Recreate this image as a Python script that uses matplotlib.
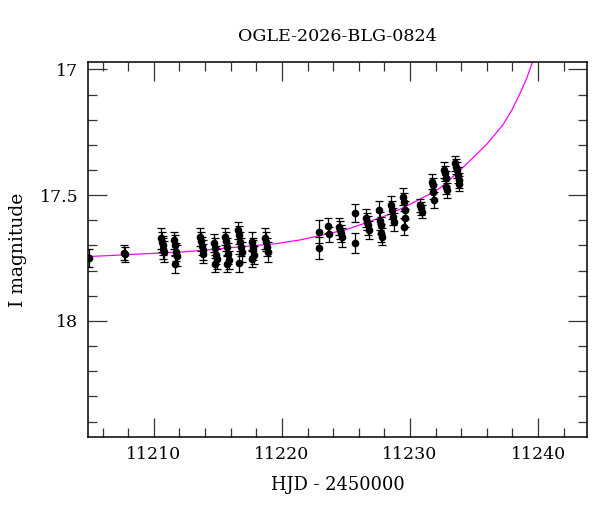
import matplotlib
matplotlib.use("Agg")
import matplotlib.pyplot as plt
from matplotlib.ticker import MultipleLocator

# photometry: HJD-2450000, I mag, error
hjd = [11204.90,
       11207.70, 11207.76,
       11210.55, 11210.62, 11210.68, 11210.72, 11210.78,
       11211.55, 11211.62, 11211.70, 11211.78, 11211.62,
       11213.60, 11213.68, 11213.75, 11213.80, 11213.86,
       11214.70, 11214.78, 11214.85, 11214.92, 11214.80,
       11215.55, 11215.62, 11215.70, 11215.78, 11215.85, 11215.68,
       11216.55, 11216.62, 11216.70, 11216.78, 11216.85, 11216.65,
       11217.65, 11217.72, 11217.78, 11217.85, 11217.70,
       11218.70, 11218.78, 11218.85, 11218.90,
       11222.86, 11222.86,
       11223.60, 11223.65,
       11224.45, 11224.52, 11224.60, 11224.68,
       11225.70, 11225.70,
       11226.60, 11226.67, 11226.73, 11226.80,
       11227.55, 11227.62, 11227.70, 11227.75, 11227.82,
       11228.55, 11228.62, 11228.70, 11228.78,
       11229.45, 11229.52, 11229.58, 11229.62, 11229.55,
       11230.80, 11230.85, 11230.90,
       11231.70, 11231.77, 11231.83, 11231.88,
       11232.65, 11232.72, 11232.78, 11232.85, 11232.90,
       11233.55, 11233.62, 11233.68, 11233.75, 11233.82, 11233.85]
mag = [17.750,
       17.728, 17.735,
       17.672, 17.685, 17.700, 17.712, 17.724,
       17.680, 17.698, 17.725, 17.740, 17.775,
       17.665, 17.684, 17.703, 17.718, 17.732,
       17.690, 17.710, 17.738, 17.752, 17.772,
       17.665, 17.684, 17.705, 17.732, 17.758, 17.772,
       17.640, 17.660, 17.685, 17.705, 17.726, 17.770,
       17.685, 17.705, 17.718, 17.738, 17.752,
       17.672, 17.685, 17.705, 17.725,
       17.645, 17.710,
       17.622, 17.655,
       17.625, 17.640, 17.652, 17.668,
       17.570, 17.690,
       17.592, 17.605, 17.620, 17.638,
       17.560, 17.603, 17.620, 17.652, 17.665,
       17.540, 17.558, 17.585, 17.605,
       17.506, 17.526, 17.560, 17.592, 17.625,
       17.540, 17.552, 17.566,
       17.447, 17.460, 17.486, 17.519,
       17.400, 17.413, 17.433, 17.466, 17.480,
       17.373, 17.387, 17.400, 17.420, 17.440, 17.455]
err = [0.035,
       0.030, 0.030,
       0.040, 0.040, 0.038, 0.040, 0.042,
       0.035, 0.038, 0.036, 0.040, 0.035,
       0.036, 0.038, 0.035, 0.040, 0.036,
       0.035, 0.038, 0.036, 0.040, 0.035,
       0.035, 0.038, 0.036, 0.040, 0.036, 0.035,
       0.035, 0.036, 0.038, 0.036, 0.040, 0.035,
       0.038, 0.036, 0.040, 0.036, 0.035,
       0.040, 0.038, 0.036, 0.040,
       0.045, 0.042,
       0.030, 0.030,
       0.035, 0.036, 0.035, 0.036,
       0.035, 0.040,
       0.036, 0.035, 0.038, 0.035,
       0.035, 0.036, 0.035, 0.036, 0.035,
       0.035, 0.036, 0.035, 0.036,
       0.035, 0.036, 0.035, 0.036, 0.035,
       0.025, 0.025, 0.025,
       0.030, 0.030, 0.030, 0.030,
       0.030, 0.030, 0.030, 0.030, 0.030,
       0.030, 0.030, 0.030, 0.030, 0.030, 0.030]

# model curve
model_t = [11204.91, 11212.44, 11219.48, 11221.43, 11224.94, 11226.50, 11228.45,
           11230.00, 11231.57, 11232.34, 11233.67, 11234.83, 11236.00, 11237.25,
           11237.95, 11238.57, 11239.12, 11239.51, 11239.98]
model_m = [17.744, 17.725, 17.693, 17.678, 17.638, 17.611, 17.575,
           17.536, 17.495, 17.472, 17.412, 17.356, 17.297, 17.221,
           17.162, 17.098, 17.035, 16.979, 16.903]

plt.rcParams['font.family'] = ['DejaVu Serif']

fig = plt.figure(figsize=(6.0, 5.12), dpi=100)
ax = fig.add_axes([0.1467, 0.147, 0.8316, 0.7313])

ax.plot(model_t, model_m, color='#ff00ff', lw=0.9, zorder=1)
ax.errorbar(hjd, mag, yerr=err, fmt='o', color='black', ms=4.5,
            ecolor='black', elinewidth=0.9, capsize=3, capthick=0.9, zorder=2)

ax.set_xlim(11204.86, 11243.82)
ax.set_ylim(18.46, 16.972)

ax.xaxis.set_major_locator(MultipleLocator(10))
ax.xaxis.set_minor_locator(MultipleLocator(2))
ax.yaxis.set_major_locator(MultipleLocator(0.5))
ax.yaxis.set_minor_locator(MultipleLocator(0.1))
ax.yaxis.set_major_formatter(plt.FuncFormatter(lambda v, p: ('%g' % v)))

ax.tick_params(which='both', direction='in', top=True, right=True,
               labelsize=12.5, width=0.9, color='#333333')
ax.tick_params(which='major', length=13.5, pad=7)
ax.tick_params(which='minor', length=6.8)
for s in ax.spines.values():
    s.set_linewidth(1.1)

ax.set_title('OGLE-2026-BLG-0824', fontsize=12.6, pad=15)
ax.set_xlabel('HJD - 2450000', fontsize=12.9, labelpad=9)
ax.set_ylabel('I magnitude', fontsize=13.5, labelpad=9)

fig.savefig('out.png', dpi=100)
